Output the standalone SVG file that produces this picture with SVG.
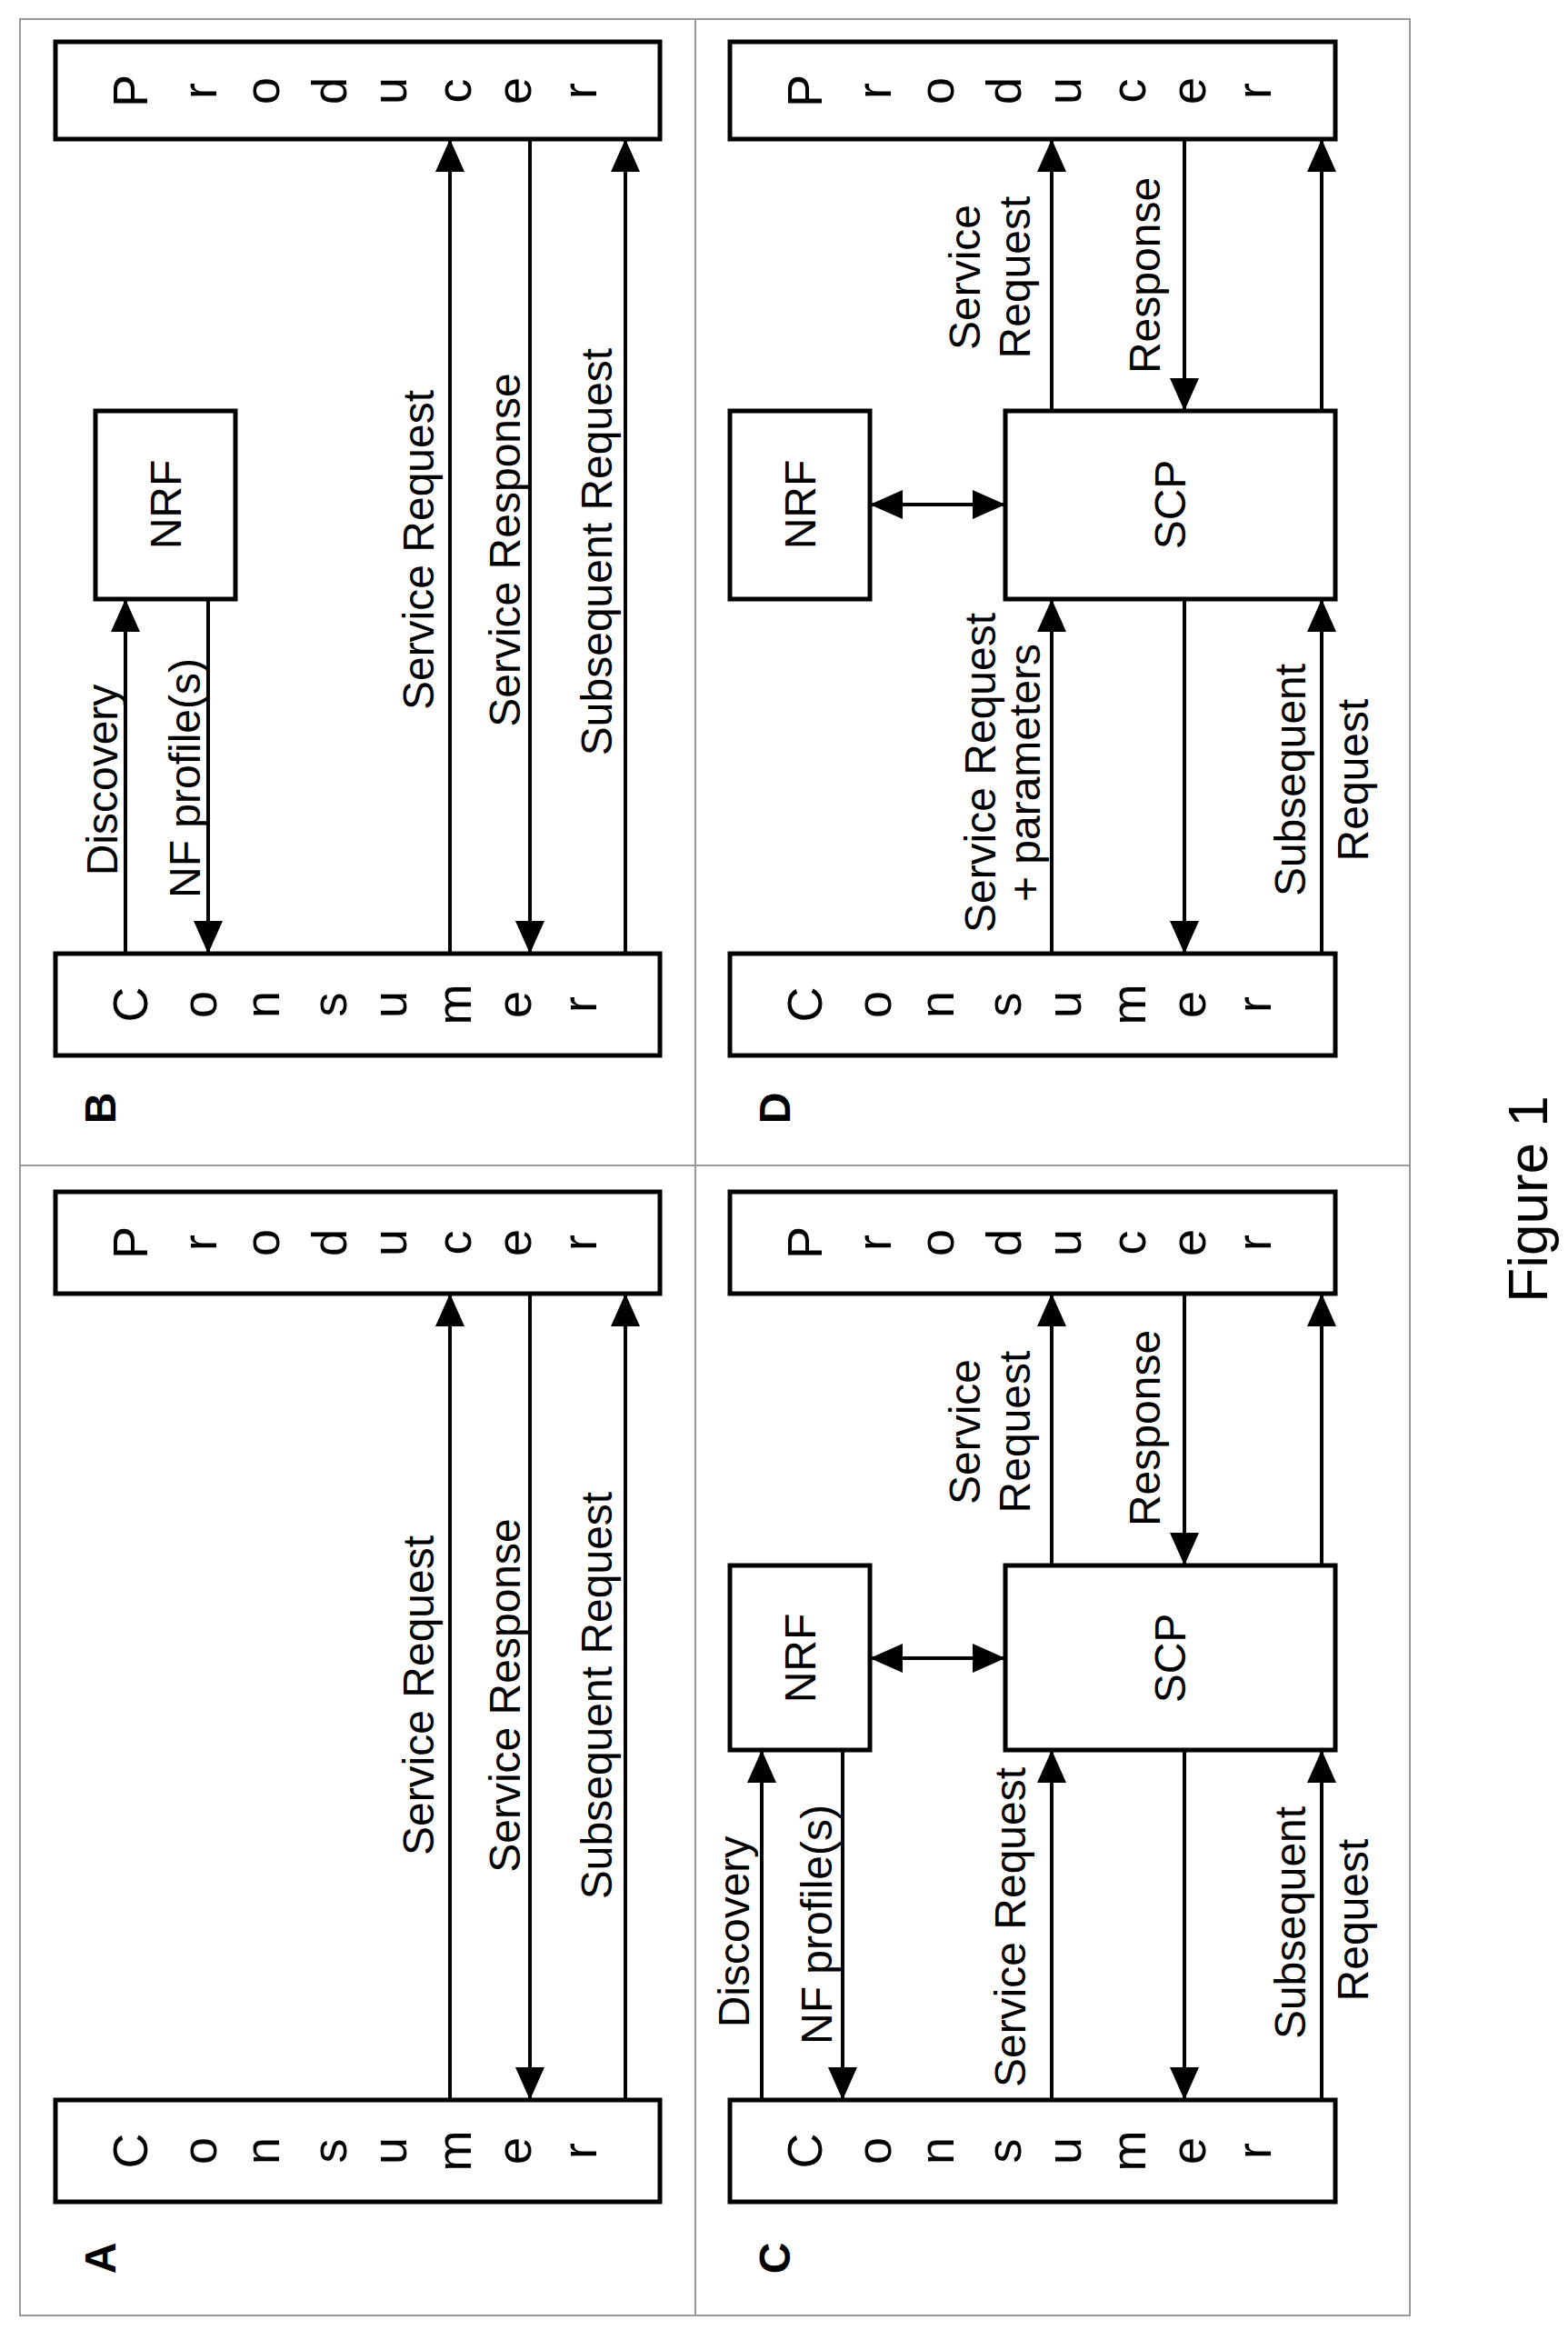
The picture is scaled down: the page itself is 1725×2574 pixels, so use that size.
<svg xmlns="http://www.w3.org/2000/svg" width="1725" height="2574" viewBox="0 0 1725 2574">
<style>
.box{fill:#fff;stroke:#000;stroke-width:5}
.ar{stroke:#000;stroke-width:4;fill:none;marker-end:url(#ah)}
.da{stroke:#000;stroke-width:4;fill:none;marker-end:url(#ah);marker-start:url(#ah)}
text{font-family:"Liberation Sans",Arial,sans-serif;font-size:48px;fill:#000}
.m{text-anchor:middle}
.b{font-weight:bold}
.lt text{font-size:54px}
.fr{fill:none;stroke:#999;stroke-width:2}
</style>
<defs>
<marker id="ah" markerUnits="userSpaceOnUse" markerWidth="36" markerHeight="32" refX="36" refY="16" orient="auto-start-reverse"><path d="M0,0 L36,16 L0,32 z" fill="#000"/></marker>
</defs>
<g id="frame">
<rect class="fr" x="22" y="21" width="1529" height="2526"/>
<line class="fr" x1="765" y1="21" x2="765" y2="2547"/>
<line class="fr" x1="22" y1="1282" x2="1551" y2="1282"/>
</g>
<g id="connectors">
<line class="ar" x1="138" y1="1049" x2="138" y2="659"/>
<line class="ar" x1="229" y1="659" x2="229" y2="1049"/>
<line class="ar" x1="495" y1="1049" x2="495" y2="153"/>
<line class="ar" x1="583" y1="153" x2="583" y2="1049"/>
<line class="ar" x1="688" y1="1049" x2="688" y2="153"/>
<line class="da" x1="957" y1="555" x2="1106" y2="555"/>
<line class="ar" x1="1157" y1="1049" x2="1157" y2="659"/>
<line class="ar" x1="1303" y1="659" x2="1303" y2="1049"/>
<line class="ar" x1="1454" y1="1049" x2="1454" y2="659"/>
<line class="ar" x1="1157" y1="452" x2="1157" y2="153"/>
<line class="ar" x1="1303" y1="153" x2="1303" y2="452"/>
<line class="ar" x1="1454" y1="452" x2="1454" y2="153"/>
<line class="ar" x1="495" y1="2310" x2="495" y2="1423"/>
<line class="ar" x1="583" y1="1423" x2="583" y2="2310"/>
<line class="ar" x1="688" y1="2310" x2="688" y2="1423"/>
<line class="ar" x1="838" y1="2310" x2="838" y2="1925"/>
<line class="ar" x1="927" y1="1925" x2="927" y2="2310"/>
<line class="da" x1="957" y1="1824" x2="1106" y2="1824"/>
<line class="ar" x1="1157" y1="2310" x2="1157" y2="1925"/>
<line class="ar" x1="1303" y1="1925" x2="1303" y2="2310"/>
<line class="ar" x1="1454" y1="2310" x2="1454" y2="1925"/>
<line class="ar" x1="1157" y1="1722" x2="1157" y2="1423"/>
<line class="ar" x1="1303" y1="1423" x2="1303" y2="1722"/>
<line class="ar" x1="1454" y1="1722" x2="1454" y2="1423"/>
</g>
<g id="labels" class="m">
<text class="b" transform="translate(127,1219) rotate(-90)">B</text>
<text transform="translate(129,858) rotate(-90)">Discovery</text>
<text transform="translate(220,856) rotate(-90)">NF profile(s)</text>
<text transform="translate(477,605) rotate(-90)">Service Request</text>
<text transform="translate(572,605) rotate(-90)">Service Response</text>
<text transform="translate(673,607) rotate(-90)">Subsequent Request</text>
<text class="b" transform="translate(869,1219) rotate(-90)">D</text>
<text transform="translate(1095,850) rotate(-90)">Service Request</text>
<text transform="translate(1144,850) rotate(-90)">+ parameters</text>
<text transform="translate(1436,858) rotate(-90)">Subsequent</text>
<text transform="translate(1505,858) rotate(-90)">Request</text>
<text transform="translate(1078,305) rotate(-90)">Service</text>
<text transform="translate(1133,305) rotate(-90)">Request</text>
<text transform="translate(1276,303) rotate(-90)">Response</text>
<text class="b" transform="translate(127,2484) rotate(-90)">A</text>
<text transform="translate(477,1865) rotate(-90)">Service Request</text>
<text transform="translate(572,1865) rotate(-90)">Service Response</text>
<text transform="translate(673,1865) rotate(-90)">Subsequent Request</text>
<text class="b" transform="translate(869,2484) rotate(-90)">C</text>
<text transform="translate(824,2125) rotate(-90)">Discovery</text>
<text transform="translate(915,2117) rotate(-90)">NF profile(s)</text>
<text transform="translate(1128,2120) rotate(-90)">Service Request</text>
<text transform="translate(1436,2115) rotate(-90)">Subsequent</text>
<text transform="translate(1505,2112) rotate(-90)">Request</text>
<text transform="translate(1078,1575) rotate(-90)">Service</text>
<text transform="translate(1133,1575) rotate(-90)">Request</text>
<text transform="translate(1276,1571) rotate(-90)">Response</text>
<text style="font-size:62px" transform="translate(1702,1319) rotate(-90)">Figure 1</text>
</g>
<g id="B-consumer"><rect class="box" x="61" y="1049" width="665" height="112"/>
<g class="m lt"><text transform="translate(162,1105) rotate(-90)">C</text><text transform="translate(238,1105) rotate(-90)">o</text><text transform="translate(307,1105) rotate(-90)">n</text><text transform="translate(381,1105) rotate(-90)">s</text><text transform="translate(447,1105) rotate(-90)">u</text><text transform="translate(518,1105) rotate(-90)">m</text><text transform="translate(584,1105) rotate(-90)">e</text><text transform="translate(656,1105) rotate(-90)">r</text></g></g>
<g id="B-producer"><rect class="box" x="61" y="46" width="665" height="107"/>
<g class="m lt"><text transform="translate(162,100) rotate(-90)">P</text><text transform="translate(238,100) rotate(-90)">r</text><text transform="translate(307,100) rotate(-90)">o</text><text transform="translate(381,100) rotate(-90)">d</text><text transform="translate(447,100) rotate(-90)">u</text><text transform="translate(518,100) rotate(-90)">c</text><text transform="translate(584,100) rotate(-90)">e</text><text transform="translate(656,100) rotate(-90)">r</text></g></g>
<g id="B-nrf"><rect class="box" x="105" y="452" width="154" height="207"/><text class="m" transform="translate(199,555) rotate(-90)">NRF</text></g>
<g id="D-consumer"><rect class="box" x="803" y="1049" width="666" height="112"/>
<g class="m lt"><text transform="translate(904,1105) rotate(-90)">C</text><text transform="translate(980,1105) rotate(-90)">o</text><text transform="translate(1049,1105) rotate(-90)">n</text><text transform="translate(1123,1105) rotate(-90)">s</text><text transform="translate(1189,1105) rotate(-90)">u</text><text transform="translate(1260,1105) rotate(-90)">m</text><text transform="translate(1326,1105) rotate(-90)">e</text><text transform="translate(1398,1105) rotate(-90)">r</text></g></g>
<g id="D-producer"><rect class="box" x="803" y="46" width="666" height="107"/>
<g class="m lt"><text transform="translate(904,100) rotate(-90)">P</text><text transform="translate(980,100) rotate(-90)">r</text><text transform="translate(1049,100) rotate(-90)">o</text><text transform="translate(1123,100) rotate(-90)">d</text><text transform="translate(1189,100) rotate(-90)">u</text><text transform="translate(1260,100) rotate(-90)">c</text><text transform="translate(1326,100) rotate(-90)">e</text><text transform="translate(1398,100) rotate(-90)">r</text></g></g>
<g id="D-nrf"><rect class="box" x="803" y="452" width="154" height="207"/><text class="m" transform="translate(897,555) rotate(-90)">NRF</text></g>
<g id="D-scp"><rect class="box" x="1106" y="452" width="363" height="207"/><text class="m" transform="translate(1304,555) rotate(-90)">SCP</text></g>
<g id="A-consumer"><rect class="box" x="61" y="2310" width="665" height="112"/>
<g class="m lt"><text transform="translate(162,2366) rotate(-90)">C</text><text transform="translate(238,2366) rotate(-90)">o</text><text transform="translate(307,2366) rotate(-90)">n</text><text transform="translate(381,2366) rotate(-90)">s</text><text transform="translate(447,2366) rotate(-90)">u</text><text transform="translate(518,2366) rotate(-90)">m</text><text transform="translate(584,2366) rotate(-90)">e</text><text transform="translate(656,2366) rotate(-90)">r</text></g></g>
<g id="A-producer"><rect class="box" x="61" y="1311" width="665" height="112"/>
<g class="m lt"><text transform="translate(162,1367) rotate(-90)">P</text><text transform="translate(238,1367) rotate(-90)">r</text><text transform="translate(307,1367) rotate(-90)">o</text><text transform="translate(381,1367) rotate(-90)">d</text><text transform="translate(447,1367) rotate(-90)">u</text><text transform="translate(518,1367) rotate(-90)">c</text><text transform="translate(584,1367) rotate(-90)">e</text><text transform="translate(656,1367) rotate(-90)">r</text></g></g>
<g id="C-consumer"><rect class="box" x="803" y="2310" width="666" height="112"/>
<g class="m lt"><text transform="translate(904,2366) rotate(-90)">C</text><text transform="translate(980,2366) rotate(-90)">o</text><text transform="translate(1049,2366) rotate(-90)">n</text><text transform="translate(1123,2366) rotate(-90)">s</text><text transform="translate(1189,2366) rotate(-90)">u</text><text transform="translate(1260,2366) rotate(-90)">m</text><text transform="translate(1326,2366) rotate(-90)">e</text><text transform="translate(1398,2366) rotate(-90)">r</text></g></g>
<g id="C-producer"><rect class="box" x="803" y="1311" width="666" height="112"/>
<g class="m lt"><text transform="translate(904,1367) rotate(-90)">P</text><text transform="translate(980,1367) rotate(-90)">r</text><text transform="translate(1049,1367) rotate(-90)">o</text><text transform="translate(1123,1367) rotate(-90)">d</text><text transform="translate(1189,1367) rotate(-90)">u</text><text transform="translate(1260,1367) rotate(-90)">c</text><text transform="translate(1326,1367) rotate(-90)">e</text><text transform="translate(1398,1367) rotate(-90)">r</text></g></g>
<g id="C-nrf"><rect class="box" x="803" y="1722" width="154" height="203"/><text class="m" transform="translate(897,1824) rotate(-90)">NRF</text></g>
<g id="C-scp"><rect class="box" x="1106" y="1722" width="363" height="203"/><text class="m" transform="translate(1304,1824) rotate(-90)">SCP</text></g>
</svg>
